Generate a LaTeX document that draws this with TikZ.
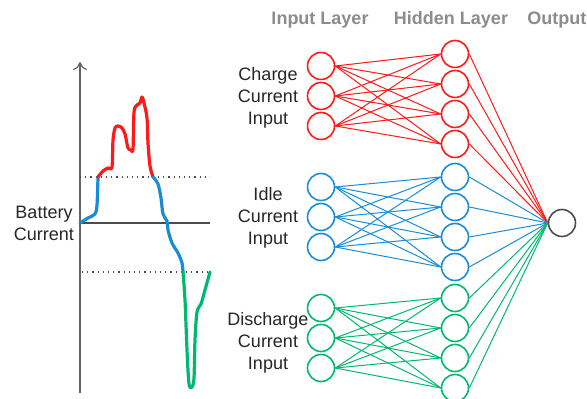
\documentclass[tikz,border=0pt]{standalone}
\usepackage{fontspec}
\setmainfont{Liberation Sans}
\usetikzlibrary{arrows.meta}
\definecolor{chargered}{RGB}{255,25,25}
\definecolor{idleblue}{RGB}{25,140,215}
\definecolor{dischgreen}{RGB}{0,185,110}
\tikzset{
  neuron/.style={circle,draw,line width=0.8pt,minimum size=13.5pt,inner sep=0pt},
  layertitle/.style={text=black!45,font=\bfseries\fontsize{9}{10}\selectfont},
  grouplabel/.style={align=center,text=black!85,font=\fontsize{9}{11}\selectfont},
  trace/.style={line width=1.6pt,line join=round,line cap=round},
  link/.style={line width=0.5pt}
}
\begin{document}
\begin{tikzpicture}[x=0.5pt,y=-0.5pt]
\useasboundingbox (0,0) rectangle (587,399);

% layer titles
\node[layertitle] (tin) at (320,20) {Input Layer};
\node[layertitle] (thid) at (451,20) {Hidden Layer};
\node[layertitle,anchor=west,inner sep=0pt] (tout) at (527,20) {Output};

% output neuron
\node[neuron,draw=black!70] (out) at (562,223) {};

% the three input groups
\foreach \g/\c/\iy/\hy/\ly/\txt in {c/chargered/66/54/98/Charge,
                                    i/idleblue/187/177/218/Idle,
                                    d/dischgreen/308/298/343/Discharge}{
    \node[grouplabel] (lab-\g) at (268,\ly) {\txt\\Current\\Input};
    \foreach \k in {0,1,2}
        \node[neuron,draw=\c] (in-\g-\k) at (321,\iy+\k*30) {};
    \foreach \h in {0,...,3}
        \node[neuron,draw=\c] (hid-\g-\h) at (455,\hy+\h*30) {};
    \foreach \k in {0,1,2}{
        \foreach \h in {0,...,3}{
            \draw[link,\c] (in-\g-\k.east) -- (hid-\g-\h.west);
        }
    }
    \foreach \h in {0,...,3}
        \draw[link,\c] (hid-\g-\h.east) -- (out.west);
}

% battery current chart
\coordinate (axbot) at (80,393);
\coordinate (axtop) at (80,62);
\coordinate (zl) at (80,223);
\coordinate (zr) at (210,223);
\draw[black!60,line width=0.6pt,-{To[length=4pt,width=7pt]}] (axbot) -- (axtop);
\draw[black!70,line width=0.6pt] (zl) -- (zr);
\draw[black!70,dotted,line width=0.6pt] (80,177) -- (210,177);
\draw[black!70,dotted,line width=0.6pt] (82,272) -- (210,272);
\node[grouplabel] (blabel) at (44,223) {Battery\\Current};

\draw[trace,idleblue] plot[smooth,tension=0.5] coordinates {(80,223) (88,218) (95,214) (97,205) (98,177)};
\draw[trace,chargered] plot[smooth,tension=0.5] coordinates {(98,177) (103,171) (108,168) (112,167) (113,140) (115,128) (118,126) (122,128) (125,134) (128,148) (131,150) (133,149) (134,112) (137,105) (140,103) (142,97) (144,103) (147,118) (148,143) (150,166) (153,177)};
\draw[trace,idleblue] plot[smooth,tension=0.5] coordinates {(153,177) (158,184) (161,198) (163,214) (167,221) (168,230) (172,243) (178,253) (182,263) (183,272)};
\draw[trace,dischgreen] plot[smooth,tension=0.5] coordinates {(183,272) (185,300) (187,350) (189,384) (192,387) (194,378) (195,340) (197,312) (201,304) (205,290) (210,272)};

\end{tikzpicture}
\end{document}
